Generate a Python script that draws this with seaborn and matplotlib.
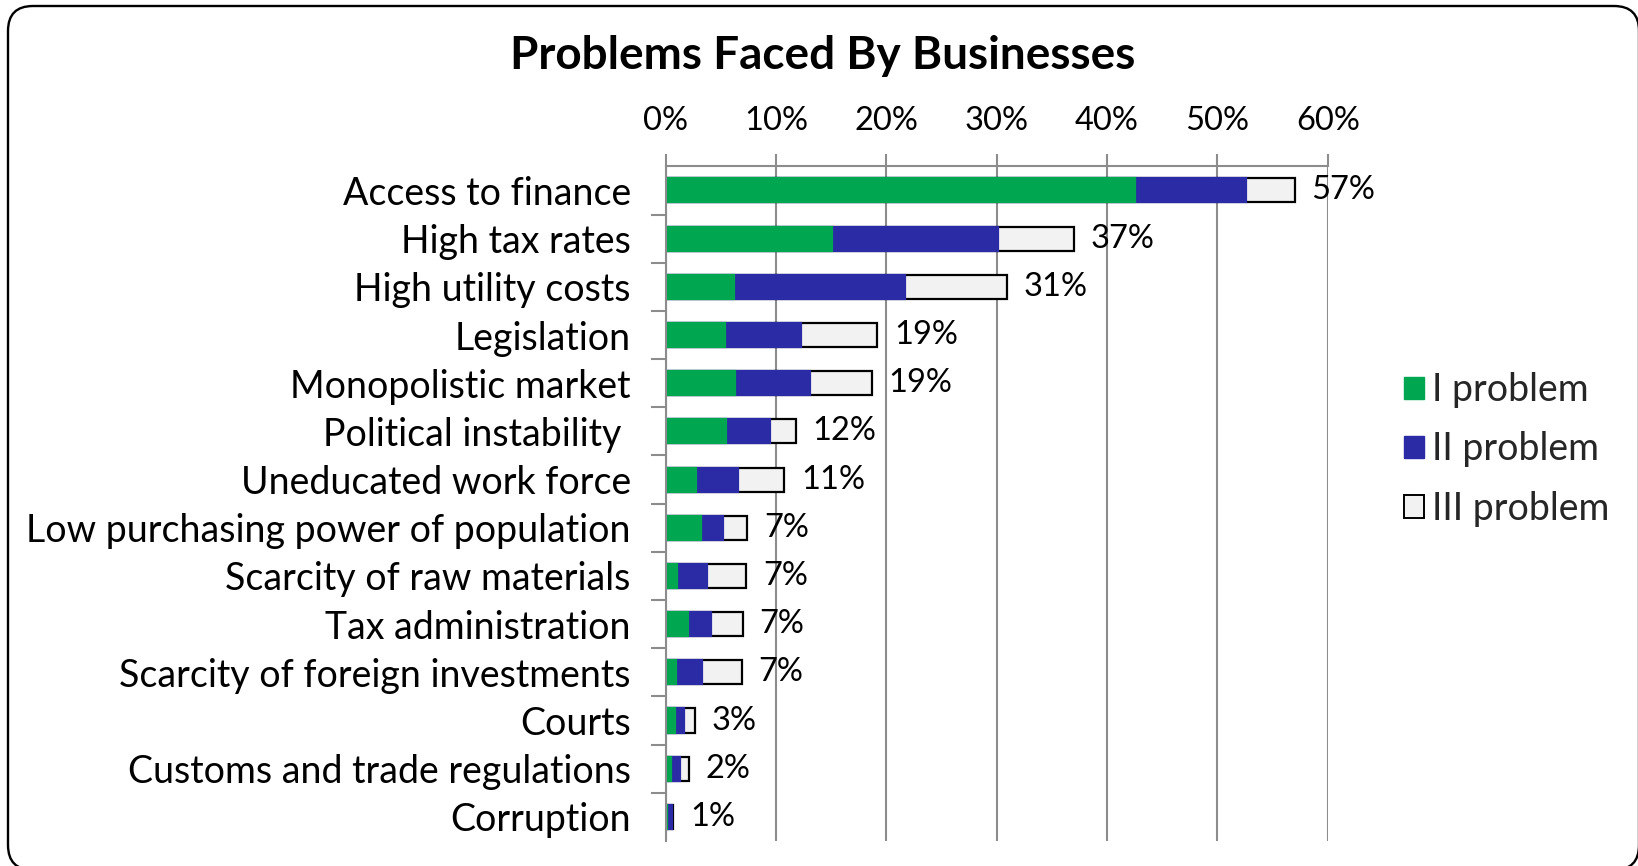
import matplotlib
matplotlib.use("Agg")
import matplotlib.pyplot as plt
from matplotlib.patches import Patch, FancyBboxPatch
from matplotlib.transforms import IdentityTransform
from matplotlib.ticker import FixedLocator, PercentFormatter
import numpy as np
import pandas as pd
import seaborn as sns

# Survey results: share of businesses naming each issue as their 1st, 2nd, 3rd problem (%)
categories = [
    "Access to finance",
    "High tax rates",
    "High utility costs",
    "Legislation",
    "Monopolistic market",
    "Political instability ",
    "Uneducated work force",
    "Low purchasing power of population",
    "Scarcity of raw materials",
    "Tax administration",
    "Scarcity of foreign investments",
    "Courts",
    "Customs and trade regulations",
    "Corruption",
]
problem_1 = [42.5, 15.1, 6.2, 5.4, 6.3, 5.5, 2.8, 3.2, 1.05, 2.0, 0.95, 0.9, 0.5, 0.15]
problem_2 = [10.1, 15.0, 15.5, 6.9, 6.8, 4.0, 3.8, 2.0, 2.75, 2.15, 2.35, 0.8, 0.8, 0.45]
problem_3 = [4.4, 6.9, 9.2, 6.9, 5.6, 2.3, 4.15, 2.2, 3.5, 2.85, 3.6, 1.0, 0.8, 0.1]
series_names = ["I problem", "II problem", "III problem"]
x_ticks = [0, 10, 20, 30, 40, 50, 60]

GREEN = "#00a650"
BLUE = "#2b2ba6"
LIGHT = "#f2f2f2"
GRID = "#8c8c8c"

sns.set_theme(style="white")
plt.rcParams["font.family"] = ["Lato", "DejaVu Sans"]

df = pd.DataFrame({
    "category": categories,
    "p1": problem_1,
    "p2": problem_2,
    "p3": problem_3,
})
df["cum2"] = df["p1"] + df["p2"]
df["total"] = df["cum2"] + df["p3"]

fig = plt.figure(figsize=(16.38, 8.66), dpi=100)
ax = fig.add_axes([0.4063, 0.0289, 0.4043, 0.779])

bar_h = 0.5
# stacked bars drawn back to front as cumulative layers
sns.barplot(data=df, x="total", y="category", orient="h", color=LIGHT,
            edgecolor="black", linewidth=1.6, width=bar_h, saturation=1, ax=ax)
sns.barplot(data=df, x="cum2", y="category", orient="h", color=BLUE,
            edgecolor=BLUE, linewidth=1.6, width=bar_h, saturation=1, ax=ax)
sns.barplot(data=df, x="p1", y="category", orient="h", color=GREEN,
            edgecolor=GREEN, linewidth=1.6, width=bar_h, saturation=1, ax=ax)

# total labels at the bar ends
for i, tot in enumerate(df["total"]):
    ax.annotate(f"{round(tot):d}%", xy=(tot, i), xytext=(12, 0),
                textcoords="offset points", ha="left", va="center",
                fontsize=23.5, color="black")

ax.set_xlim(0, 60)
ax.set_ylim(len(categories) - 0.5, -0.5)
ax.set_xlabel("")
ax.set_ylabel("")

ax.xaxis.tick_top()
ax.xaxis.set_major_locator(FixedLocator(x_ticks))
ax.xaxis.set_major_formatter(PercentFormatter(decimals=0))
ax.tick_params(axis="x", which="major", top=True, bottom=False, length=9,
               width=1.5, color=GRID, labelsize=23.5, pad=13)
ax.grid(axis="x", color=GRID, linewidth=1.5)
ax.grid(axis="y", visible=False)
ax.set_axisbelow(True)

ax.tick_params(axis="y", which="major", left=False, length=0, labelsize=27, pad=25)
ax.yaxis.set_minor_locator(FixedLocator(np.arange(0.5, len(categories) - 0.5, 1.0)))
ax.tick_params(axis="y", which="minor", left=True, length=11, width=1.5, color=GRID)
for lbl in ax.get_yticklabels():
    lbl.set_color("black")
for lbl in ax.get_xticklabels():
    lbl.set_color("black")

for side in ["right", "bottom"]:
    ax.spines[side].set_visible(False)
for side in ["left", "top"]:
    ax.spines[side].set_color(GRID)
    ax.spines[side].set_linewidth(1.5)

handles = [
    Patch(facecolor=GREEN, edgecolor=GREEN, label=series_names[0]),
    Patch(facecolor=BLUE, edgecolor=BLUE, label=series_names[1]),
    Patch(facecolor=LIGHT, edgecolor="black", linewidth=1.4, label=series_names[2]),
]
fig.legend(handles=handles, loc="center left", bbox_to_anchor=(0.857, 0.481),
           frameon=False, fontsize=27, handlelength=0.55, handleheight=0.55,
           handletextpad=0.2, labelspacing=0.62, borderpad=0, borderaxespad=0)

fig.text(0.5025, 0.935, "Problems Faced By Businesses", ha="center", va="center",
         fontsize=33, fontweight="bold", color="black")

# rounded chart frame, in pixel coordinates
frame = FancyBboxPatch((8, -4), 1631, 864, boxstyle="round,pad=0,rounding_size=25",
                       transform=IdentityTransform(), facecolor="none",
                       edgecolor="black", linewidth=1.7)
fig.add_artist(frame)

fig.savefig("out.png", dpi=100)
